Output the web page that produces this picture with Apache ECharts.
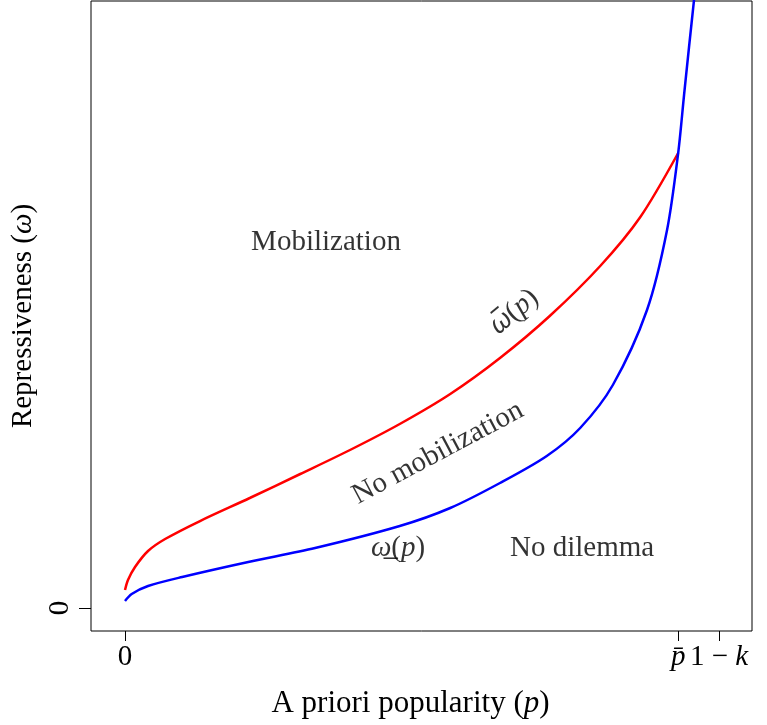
<!DOCTYPE html>
<html>
<head>
<meta charset="utf-8">
<script src="https://cdn.jsdelivr.net/npm/echarts@6/dist/echarts.min.js"></script>
<style>
html,body{margin:0;padding:0;background:#fff;}
#chart{width:767px;height:725px;}
</style>
</head>
<body>
<div id="chart"></div>
<script>
// Upper threshold  omega-bar(p)  (red)
const redP = [0, 0.004, 0.0135, 0.031, 0.054, 0.101, 0.168, 0.236, 0.303, 0.370, 0.438, 0.505, 0.572, 0.640, 0.694, 0.745];
const redW = [0.18, 0.28, 0.41, 0.57, 0.69, 0.87, 1.10, 1.34, 1.58, 1.84, 2.14, 2.50, 2.92, 3.42, 3.91, 4.55];
// Lower threshold  omega-underbar(p)  (blue)
const blueP = [0, 0.009, 0.031, 0.077, 0.166, 0.256, 0.370, 0.438, 0.505, 0.568, 0.613, 0.657, 0.703, 0.730, 0.745, 0.7529, 0.7596, 0.7663, 0.769];
const blueW = [0.07, 0.14, 0.22, 0.31, 0.46, 0.60, 0.82, 1.00, 1.25, 1.52, 1.80, 2.23, 2.98, 3.78, 4.55, 5.13, 5.61, 6.08, 6.28];
// Axis ticks
const xTickValues = [0, 0.745, 0.8];
const xTickLabels = ['{n|0}', '{i|p\u0304}', '{n|1 \u2212 }{i|k}'];
const yTickValues = [0];
const yTickLabels = ['0'];
// Region annotations
const annP = [0.2707, 0.4215, 0.524, 0.3677, 0.6155];
const annW = [3.66, 1.55, 2.96, 0.60, 0.60];
const annText = ['{n|Mobilization}', '{n|No mobilization}', '{h|\u03C9\u0305}{n|(}{i|p}{n|)}', '{i|\u03C9\u0332}{n|(}{i|p}{n|)}', '{n|No dilemma}'];
const annRot = [0, 28, 40, 0, 0];

const FONT = '"Liberation Serif", "DejaVu Serif", serif';
const FS = 29;
const rich = {
  n: {fontFamily: FONT, fontSize: FS, color: '#000'},
  i: {fontFamily: FONT, fontSize: FS, fontStyle: 'italic', color: '#000'},
  h: {fontFamily: 'Noto Sans', fontSize: 27, fontStyle: 'italic', color: '#000'}
};
const richT = {
  n: {fontFamily: FONT, fontSize: 31, color: '#000'},
  i: {fontFamily: FONT, fontSize: 31, fontStyle: 'italic', color: '#000'}
};

function zip(a, b) { return a.map((v, i) => [v, b[i]]); }

const chart = echarts.init(document.getElementById('chart'), null, {renderer: 'canvas'});
chart.setOption({
  backgroundColor: '#fff',
  animation: false,
  grid: {left: 91, right: 15, top: 1, bottom: 94, show: true, borderColor: '#000', borderWidth: 1, backgroundColor: 'transparent', containLabel: false},
  xAxis: {
    type: 'value', min: -0.0458, max: 0.8444,
    splitLine: {show: false},
    axisLine: {show: false, onZero: false},
    axisTick: {show: true, length: 10, inside: false, customValues: xTickValues, lineStyle: {color: '#000', width: 1}},
    axisLabel: {
      show: true, margin: 12, customValues: xTickValues, color: '#000',
      formatter: function (v) { const i = xTickValues.indexOf(v); return i >= 0 ? xTickLabels[i] : ''; },
      rich: rich
    },
    name: '{n|A priori popularity (}{i|p}{n|)}',
    nameLocation: 'middle', nameGap: 57,
    nameTextStyle: {rich: richT, padding: [0, 22, 0, 0]}
  },
  yAxis: {
    type: 'value', min: -0.23, max: 6.07,
    splitLine: {show: false},
    axisLine: {show: false, onZero: false},
    axisTick: {show: true, length: 12, customValues: yTickValues, lineStyle: {color: '#000', width: 1}},
    axisLabel: {
      show: true, margin: 16, rotate: 90, customValues: yTickValues,
      formatter: function (v) { const i = yTickValues.indexOf(v); return i >= 0 ? yTickLabels[i] : ''; },
      fontFamily: FONT, fontSize: FS, color: '#000'
    },
    name: '{n|Repressiveness (}{i|\u03C9}{n|)}',
    nameLocation: 'middle', nameGap: 46,
    nameTextStyle: {rich: rich}
  },
  series: [
    {type: 'line', data: zip(redP, redW), showSymbol: false, smooth: 0.3, clip: true,
      lineStyle: {color: '#ff0000', width: 2.5}, silent: true},
    {type: 'line', data: zip(blueP, blueW), showSymbol: false, smooth: 0.3, clip: true,
      lineStyle: {color: '#0000ff', width: 2.5}, silent: true},
    {type: 'scatter', symbolSize: 0, silent: true,
      data: annP.map((p, i) => ({
        value: [p, annW[i]],
        label: {show: true, position: 'inside', rotate: annRot[i], formatter: annText[i], rich: rich, color: '#000', align: 'center', verticalAlign: 'middle'}
      }))
    }
  ]
});
</script>
</body>
</html>
